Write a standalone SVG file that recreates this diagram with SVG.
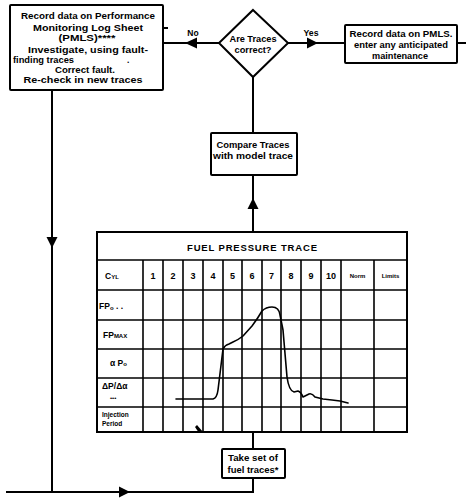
<svg xmlns="http://www.w3.org/2000/svg" width="466" height="500" viewBox="0 0 466 500">
<style>
.box{fill:#fff;stroke:#000;stroke-width:2}
.ln{fill:none;stroke:#000;stroke-width:2}
.g{fill:none;stroke:#000;stroke-width:1.6}
.ah{fill:#000;stroke:none}
text{font-family:"Liberation Sans",Arial,sans-serif;font-weight:bold;font-size:8.5px;fill:#000}
.c{text-anchor:middle}
.s{font-size:6px}
.n{font-size:9px;text-anchor:middle}
.curve{fill:none;stroke:#000;stroke-width:1.6;stroke-linejoin:round;stroke-linecap:round}
</style>
<rect width="466" height="500" fill="#fff"/>
<g id="connectors">
<line class="ln" x1="219" y1="43" x2="163" y2="43"/>
<polygon class="ah" points="185,43 197,37.5 197,48.5"/>
<line class="ln" x1="288" y1="43" x2="345" y2="43"/>
<polygon class="ah" points="318,43 307,37.5 307,48.5"/>
<line class="ln" x1="457" y1="43" x2="466" y2="43"/>
<line class="ln" x1="163" y1="28" x2="168" y2="28"/>
<line class="ln" x1="253" y1="77" x2="253" y2="133"/>
<line class="ln" x1="253" y1="175" x2="253" y2="232"/>
<polygon class="ah" points="253,198 247.5,209 258.5,209"/>
<line class="ln" x1="52" y1="90" x2="52" y2="492"/>
<polygon class="ah" points="52,248 46.5,237 57.5,237"/>
<line class="ln" x1="253" y1="432" x2="253" y2="449"/>
<polyline class="ln" points="253,478 253,492 6,492"/>
<polygon class="ah" points="130,492 119,486.5 119,497.5"/>
</g>
<g id="record-performance">
<rect class="box" x="10" y="5" width="153" height="85" rx="1"/>
<text class="c" x="88" y="19" textLength="134" lengthAdjust="spacingAndGlyphs">Record data on Performance</text>
<text class="c" x="88" y="31" textLength="110" lengthAdjust="spacingAndGlyphs">Monitoring Log Sheet</text>
<text class="c" x="87" y="41" textLength="57" lengthAdjust="spacingAndGlyphs">(PMLS)****</text>
<text class="c" x="88" y="53" textLength="120" lengthAdjust="spacingAndGlyphs">Investigate, using fault-</text>
<text x="13" y="63" textLength="61" lengthAdjust="spacingAndGlyphs">finding traces</text>
<text x="127" y="63">.</text>
<text class="c" x="85" y="73" textLength="60" lengthAdjust="spacingAndGlyphs">Correct fault.</text>
<text class="c" x="83" y="83" textLength="119" lengthAdjust="spacingAndGlyphs">Re-check in new traces</text>
</g>
<g id="decision">
<polygon class="box" points="253,10 288,43 253,77 219,43"/>
<text class="c" x="253" y="42" textLength="47" lengthAdjust="spacingAndGlyphs">Are Traces</text>
<text class="c" x="253" y="53" textLength="37" lengthAdjust="spacingAndGlyphs">correct?</text>
<text class="c" x="193" y="36">No</text>
<text class="c" x="311" y="36" textLength="15" lengthAdjust="spacingAndGlyphs">Yes</text>
</g>
<g id="record-pmls">
<rect class="box" x="345" y="25" width="112" height="38" rx="1"/>
<text class="c" x="401" y="37" textLength="103" lengthAdjust="spacingAndGlyphs">Record data on PMLS.</text>
<text class="c" x="401" y="48" textLength="94" lengthAdjust="spacingAndGlyphs">enter any anticipated</text>
<text class="c" x="400" y="59" textLength="56" lengthAdjust="spacingAndGlyphs">maintenance</text>
</g>
<g id="compare">
<rect class="box" x="211" y="133" width="86" height="42" rx="1"/>
<text class="c" x="253" y="148" textLength="73" lengthAdjust="spacingAndGlyphs">Compare Traces</text>
<text class="c" x="253" y="159" textLength="80" lengthAdjust="spacingAndGlyphs">with model trace</text>
</g>
<g id="trace-table">
<rect class="box" x="97" y="232" width="310" height="200"/>
<g class="g">
<line x1="97" y1="260" x2="407" y2="260"/>
<line x1="97" y1="290" x2="407" y2="290"/>
<line x1="97" y1="320" x2="407" y2="320"/>
<line x1="97" y1="349" x2="407" y2="349"/>
<line x1="97" y1="378" x2="407" y2="378"/>
<line x1="97" y1="407" x2="407" y2="407"/>
<line x1="143" y1="260" x2="143" y2="432"/>
<line x1="163" y1="260" x2="163" y2="432"/>
<line x1="183" y1="260" x2="183" y2="432"/>
<line x1="203" y1="260" x2="203" y2="432"/>
<line x1="223" y1="260" x2="223" y2="432"/>
<line x1="242" y1="260" x2="242" y2="432"/>
<line x1="262" y1="260" x2="262" y2="432"/>
<line x1="281" y1="260" x2="281" y2="432"/>
<line x1="301" y1="260" x2="301" y2="432"/>
<line x1="321" y1="260" x2="321" y2="432"/>
<line x1="341" y1="260" x2="341" y2="432"/>
<line x1="374" y1="260" x2="374" y2="432"/>
</g>
<text class="c" x="252" y="251" style="font-size:9.5px" textLength="130" lengthAdjust="spacing">FUEL PRESSURE TRACE</text>
<text x="105" y="279">C<tspan class="s">YL</tspan></text>
<text class="n" x="153" y="279">1</text>
<text class="n" x="173" y="279">2</text>
<text class="n" x="193" y="279">3</text>
<text class="n" x="213" y="279">4</text>
<text class="n" x="232.5" y="279">5</text>
<text class="n" x="252" y="279">6</text>
<text class="n" x="271.5" y="279">7</text>
<text class="n" x="291" y="279">8</text>
<text class="n" x="311" y="279">9</text>
<text class="n" x="331" y="279">10</text>
<text class="c s" x="357.5" y="278">Norm</text>
<text class="c s" x="390.5" y="278">Limits</text>
<text x="99" y="309">FP<tspan class="s" dy="1">o</tspan><tspan dy="-1"> . .</tspan></text>
<text x="103" y="338">FP<tspan class="s">MAX</tspan></text>
<text x="110" y="366">α P<tspan class="s">o</tspan></text>
<text x="102" y="389">ΔP/Δα</text>
<text x="110" y="400" class="s">•••</text>
<text x="102" y="417" class="s" style="font-size:6.5px">Injection</text>
<text x="102" y="426" class="s" style="font-size:6.5px">Period</text>
<path class="curve" d="M176,399 L213,399 Q217,398 218,390 L223,349 Q225,345 229,344 L233,342 Q238,340 243,336 L252,326 Q258,318 262,311 Q266,307 272,307 Q279,307 280,315 L283,330 L287,377 Q289,391 294,392 L298,391 Q301,392 303,397 L309,394 Q312,393 315,397 L323,399 L332,400 L340,401 L348,403"/>
<polygon class="ah" points="197,425 203,432 199,433 195,427"/>
</g>
<g id="take-traces">
<rect class="box" x="222" y="449" width="63" height="29" rx="1"/>
<text class="c" x="253" y="461" textLength="50" lengthAdjust="spacingAndGlyphs">Take set of</text>
<text class="c" x="253" y="473" textLength="51" lengthAdjust="spacingAndGlyphs">fuel traces*</text>
</g>
</svg>
